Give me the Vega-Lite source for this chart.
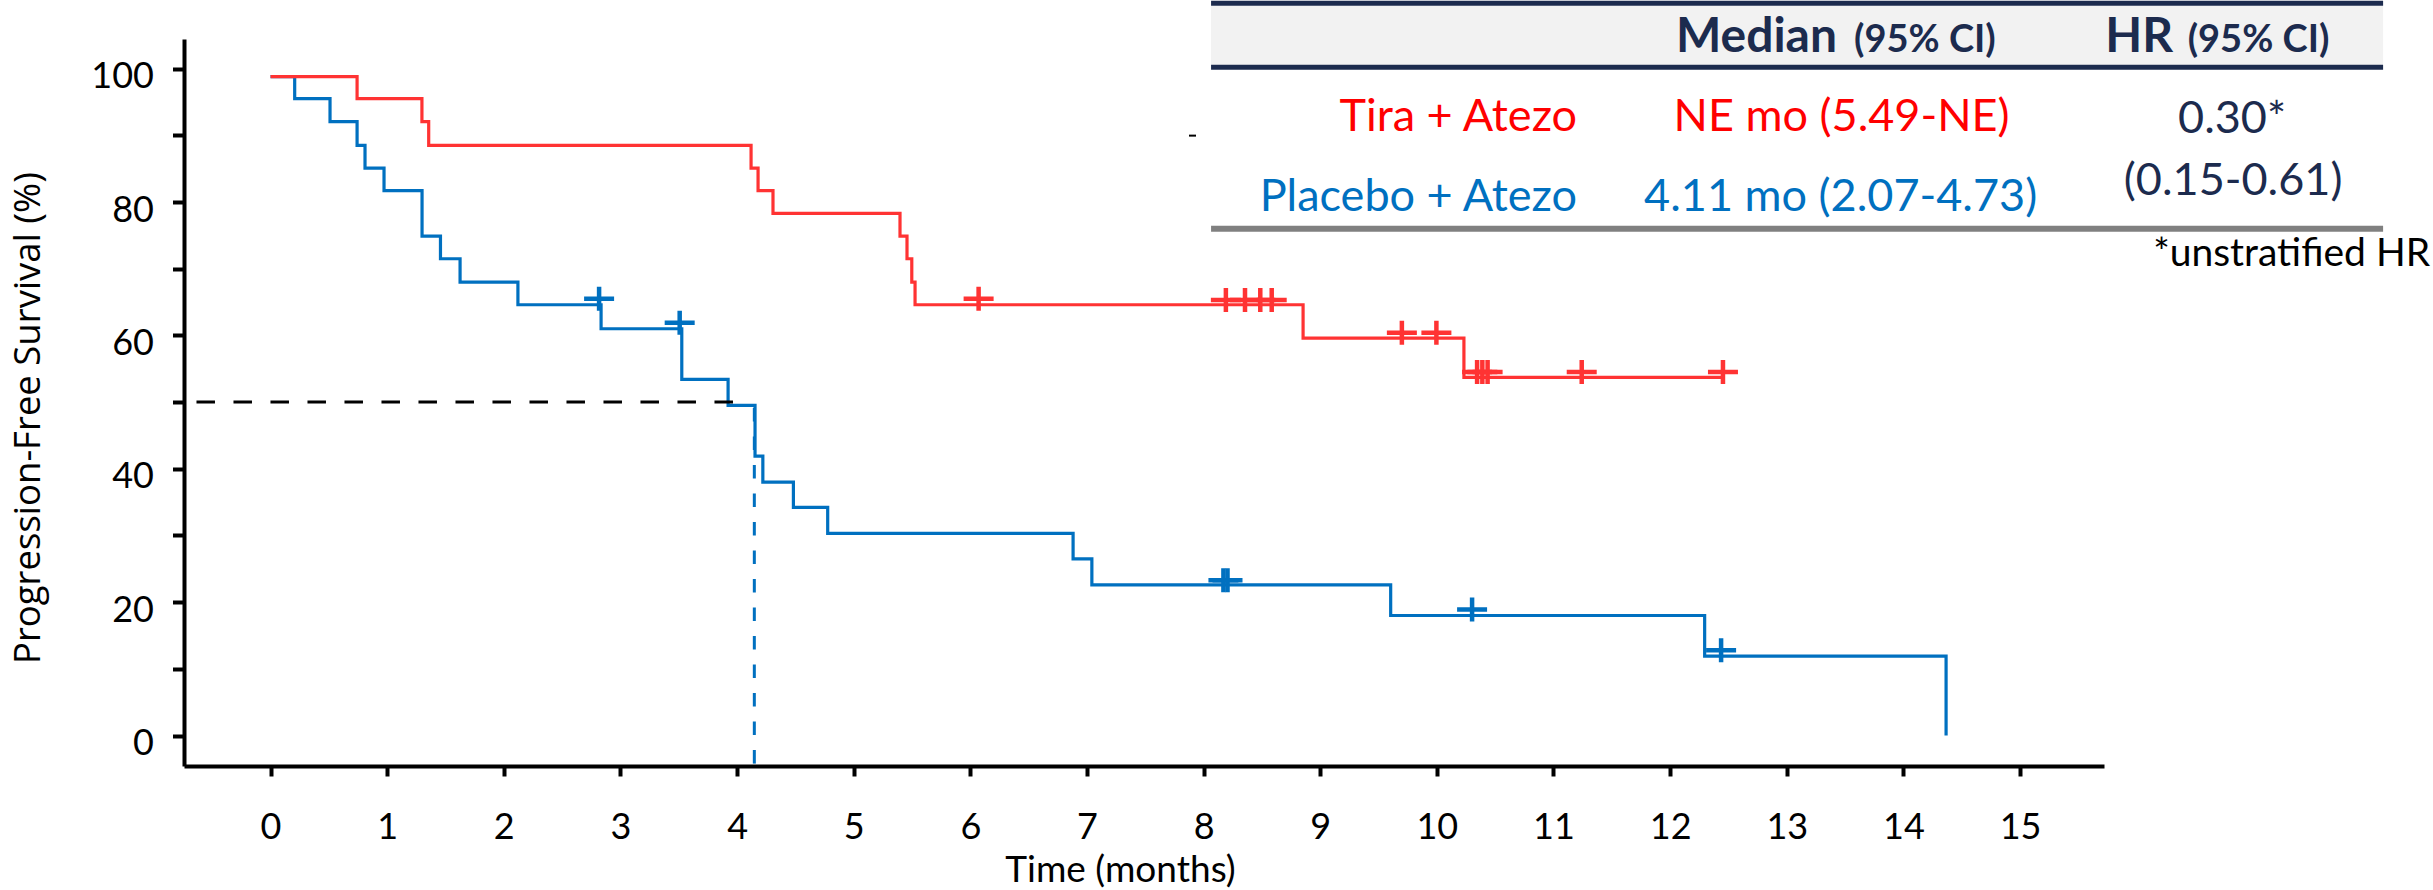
{
  "$schema": "https://vega.github.io/schema/vega-lite/v6.json",
  "width": 1920,
  "height": 727,
  "autosize": "none",
  "padding": {"left": 184, "top": 39, "right": 329, "bottom": 124},
  "background": "white",
  "config": {"view": {"stroke": null}},
  "datasets": {
    "km": [
      {"arm": "Placebo + Atezo", "time": 0, "surv": 98.8},
      {"arm": "Placebo + Atezo", "time": 0.207, "surv": 95.5},
      {"arm": "Placebo + Atezo", "time": 0.51, "surv": 92.05},
      {"arm": "Placebo + Atezo", "time": 0.742, "surv": 88.5},
      {"arm": "Placebo + Atezo", "time": 0.81, "surv": 85.1},
      {"arm": "Placebo + Atezo", "time": 0.973, "surv": 81.7},
      {"arm": "Placebo + Atezo", "time": 1.299, "surv": 74.9},
      {"arm": "Placebo + Atezo", "time": 1.457, "surv": 71.5},
      {"arm": "Placebo + Atezo", "time": 1.625, "surv": 68.0},
      {"arm": "Placebo + Atezo", "time": 2.121, "surv": 64.6},
      {"arm": "Placebo + Atezo", "time": 2.834, "surv": 61.0},
      {"arm": "Placebo + Atezo", "time": 3.526, "surv": 53.4},
      {"arm": "Placebo + Atezo", "time": 3.923, "surv": 49.5},
      {"arm": "Placebo + Atezo", "time": 4.154, "surv": 41.9},
      {"arm": "Placebo + Atezo", "time": 4.221, "surv": 38.0},
      {"arm": "Placebo + Atezo", "time": 4.483, "surv": 34.2},
      {"arm": "Placebo + Atezo", "time": 4.777, "surv": 30.3},
      {"arm": "Placebo + Atezo", "time": 6.881, "surv": 26.5},
      {"arm": "Placebo + Atezo", "time": 7.042, "surv": 22.6},
      {"arm": "Placebo + Atezo", "time": 9.604, "surv": 18.0},
      {"arm": "Placebo + Atezo", "time": 12.296, "surv": 11.9},
      {"arm": "Placebo + Atezo", "time": 14.366, "surv": 0},
      {"arm": "Tira + Atezo", "time": 0, "surv": 98.8},
      {"arm": "Tira + Atezo", "time": 0.742, "surv": 95.5},
      {"arm": "Tira + Atezo", "time": 1.298, "surv": 92.05},
      {"arm": "Tira + Atezo", "time": 1.356, "surv": 88.5},
      {"arm": "Tira + Atezo", "time": 4.12, "surv": 85.1},
      {"arm": "Tira + Atezo", "time": 4.18, "surv": 81.7},
      {"arm": "Tira + Atezo", "time": 4.308, "surv": 78.3},
      {"arm": "Tira + Atezo", "time": 5.397, "surv": 74.9},
      {"arm": "Tira + Atezo", "time": 5.457, "surv": 71.5},
      {"arm": "Tira + Atezo", "time": 5.498, "surv": 68.0},
      {"arm": "Tira + Atezo", "time": 5.526, "surv": 64.6},
      {"arm": "Tira + Atezo", "time": 8.853, "surv": 59.6},
      {"arm": "Tira + Atezo", "time": 10.232, "surv": 53.7},
      {"arm": "Tira + Atezo", "time": 12.44, "surv": 53.7}
    ],
    "censor": [
      {"arm": "Placebo + Atezo", "time": 2.817, "surv": 65.5},
      {"arm": "Placebo + Atezo", "time": 3.508, "surv": 61.9},
      {"arm": "Placebo + Atezo", "time": 8.17, "surv": 23.3},
      {"arm": "Placebo + Atezo", "time": 8.205, "surv": 23.3},
      {"arm": "Placebo + Atezo", "time": 10.302, "surv": 18.9},
      {"arm": "Placebo + Atezo", "time": 12.437, "surv": 12.8},
      {"arm": "Tira + Atezo", "time": 6.071, "surv": 65.5},
      {"arm": "Tira + Atezo", "time": 8.191, "surv": 65.3},
      {"arm": "Tira + Atezo", "time": 8.355, "surv": 65.3},
      {"arm": "Tira + Atezo", "time": 8.486, "surv": 65.3},
      {"arm": "Tira + Atezo", "time": 8.584, "surv": 65.3},
      {"arm": "Tira + Atezo", "time": 9.70, "surv": 60.4},
      {"arm": "Tira + Atezo", "time": 9.996, "surv": 60.4},
      {"arm": "Tira + Atezo", "time": 10.345, "surv": 54.5},
      {"arm": "Tira + Atezo", "time": 10.39, "surv": 54.5},
      {"arm": "Tira + Atezo", "time": 10.435, "surv": 54.5},
      {"arm": "Tira + Atezo", "time": 11.242, "surv": 54.5},
      {"arm": "Tira + Atezo", "time": 12.453, "surv": 54.5}
    ]
  },
  "layer": [
    {
      "data": {"name": "km"},
      "transform": [{"filter": "datum.arm === 'Placebo + Atezo'"}],
      "mark": {"type": "line", "interpolate": "step-after", "strokeWidth": 3.2, "color": "#0070c0"},
      "encoding": {
        "x": {
          "field": "time", "type": "quantitative",
          "scale": {"domain": [-0.742, 15.72], "nice": false, "zero": false},
          "axis": {
            "title": "Time (months)",
            "values": [0,1,2,3,4,5,6,7,8,9,10,11,12,13,14,15],
            "format": "d",
            "grid": false,
            "domainColor": "black", "domainWidth": 4,
            "tickColor": "black", "tickWidth": 4, "tickSize": 10,
            "labelFont": "Lato", "labelFontSize": 36, "labelColor": "black",
            "labelPadding": 34, "labelFlush": false, "labelOverlap": false,
            "titleFont": "Lato", "titleFontSize": 37, "titleFontWeight": "normal", "titleColor": "black",
            "titleX": 936, "titleY": 115.5, "titleBaseline": "alphabetic", "titleAlign": "center"
          }
        },
        "y": {
          "field": "surv", "type": "quantitative",
          "scale": {"domain": [-4.57, 104.45], "nice": false, "zero": false},
          "axis": {
            "title": "Progression-Free Survival (%)",
            "values": [0,10,20,30,40,50,60,70,80,90,100],
            "labelExpr": "datum.value % 20 === 0 ? datum.label : ''",
            "format": "d",
            "grid": false,
            "domainColor": "black", "domainWidth": 4,
            "tickColor": "black", "tickWidth": 4, "tickSize": 11.5,
            "labelFont": "Lato", "labelFontSize": 36, "labelColor": "black",
            "labelPadding": 19, "labelOffset": 8, "labelFlush": false, "labelOverlap": false,
            "titleFont": "Open Sans", "titleFontSize": 36.5, "titleFontWeight": "normal", "titleColor": "black",
            "titleAngle": -90, "titleX": -145, "titleY": 378.5, "titleBaseline": "alphabetic", "titleAlign": "center"
          }
        }
      }
    },
    {
      "data": {"name": "km"},
      "transform": [{"filter": "datum.arm === 'Tira + Atezo'"}],
      "mark": {"type": "line", "interpolate": "step-after", "strokeWidth": 3.2, "color": "#ff3333"},
      "encoding": {
        "x": {"field": "time", "type": "quantitative"},
        "y": {"field": "surv", "type": "quantitative"}
      }
    },
    {
      "data": {"name": "censor"},
      "mark": {"type": "point", "shape": "M-1.25,0H1.25M0,-1V1", "filled": false, "strokeWidth": 4.5, "size": 576, "opacity": 1},
      "encoding": {
        "x": {"field": "time", "type": "quantitative"},
        "y": {"field": "surv", "type": "quantitative"},
        "color": {"field": "arm", "type": "nominal", "scale": {"domain": ["Placebo + Atezo", "Tira + Atezo"], "range": ["#0070c0", "#ff3333"]}, "legend": null}
      }
    },
    {
      "data": {"values": [{}]},
      "mark": {"type": "rule", "color": "black", "strokeWidth": 3, "strokeDash": [18.5, 18.5]},
      "encoding": {
        "x": {"datum": -0.635, "type": "quantitative"},
        "x2": {"datum": 3.99},
        "y": {"datum": 50, "type": "quantitative"}
      }
    },
    {
      "data": {"values": [{}]},
      "mark": {"type": "rule", "color": "#0070c0", "strokeWidth": 3, "strokeDash": [13.5, 15]},
      "encoding": {
        "x": {"datum": 4.148, "type": "quantitative"},
        "y": {"datum": 49.1, "type": "quantitative"},
        "y2": {"datum": -4.57}
      }
    },
    {
      "data": {"values": [{}]},
      "mark": {"type": "rect", "color": "#f2f2f2"},
      "encoding": {
        "x": {"datum": 8.064, "type": "quantitative"},
        "x2": {"datum": 18.113},
        "y": {"datum": 109.45, "type": "quantitative"},
        "y2": {"datum": 100.6}
      }
    },
    {
      "data": {"values": [{"y": 109.82}, {"y": 100.22}]},
      "mark": {"type": "rule", "color": "#1c2b4e", "strokeWidth": 5},
      "encoding": {
        "x": {"datum": 8.064, "type": "quantitative"},
        "x2": {"datum": 18.113},
        "y": {"field": "y", "type": "quantitative"}
      }
    },
    {
      "data": {"values": [{}]},
      "mark": {"type": "rule", "color": "#808080", "strokeWidth": 6},
      "encoding": {
        "x": {"datum": 8.064, "type": "quantitative"},
        "x2": {"datum": 18.113},
        "y": {"datum": 76.0, "type": "quantitative"}
      }
    },
    {
      "data": {"values": [{}]},
      "mark": {"type": "rule", "color": "black", "strokeWidth": 2},
      "encoding": {
        "x": {"datum": 7.875, "type": "quantitative"},
        "x2": {"datum": 7.935},
        "y": {"datum": 89.96, "type": "quantitative"}
      }
    },
    {
      "data": {"values": [{"label": "Median"}]},
      "mark": {"type": "text", "font": "Lato", "fontSize": 48, "fontWeight": "bold", "color": "#1c2b4e", "align": "right", "baseline": "alphabetic"},
      "encoding": {"x": {"datum": 13.431, "type": "quantitative"}, "y": {"datum": 102.44, "type": "quantitative"}, "text": {"field": "label"}}
    },
    {
      "data": {"values": [{"label": "(95% CI)"}]},
      "mark": {"type": "text", "font": "Lato", "fontSize": 38, "fontWeight": "bold", "color": "#1c2b4e", "align": "left", "baseline": "alphabetic"},
      "encoding": {"x": {"datum": 13.577, "type": "quantitative"}, "y": {"datum": 102.44, "type": "quantitative"}, "text": {"field": "label"}}
    },
    {
      "data": {"values": [{"label": "HR"}]},
      "mark": {"type": "text", "font": "Lato", "fontSize": 48, "fontWeight": "bold", "color": "#1c2b4e", "align": "right", "baseline": "alphabetic"},
      "encoding": {"x": {"datum": 16.313, "type": "quantitative"}, "y": {"datum": 102.44, "type": "quantitative"}, "text": {"field": "label"}}
    },
    {
      "data": {"values": [{"label": "(95% CI)"}]},
      "mark": {"type": "text", "font": "Lato", "fontSize": 38, "fontWeight": "bold", "color": "#1c2b4e", "align": "left", "baseline": "alphabetic"},
      "encoding": {"x": {"datum": 16.437, "type": "quantitative"}, "y": {"datum": 102.44, "type": "quantitative"}, "text": {"field": "label"}}
    },
    {
      "data": {"values": [{"label": "Tira + Atezo"}]},
      "mark": {"type": "text", "font": "Lato", "fontSize": 45, "color": "#ff0000", "align": "right", "baseline": "alphabetic"},
      "encoding": {"x": {"datum": 11.202, "type": "quantitative"}, "y": {"datum": 90.6, "type": "quantitative"}, "text": {"field": "label"}}
    },
    {
      "data": {"values": [{"label": "Placebo + Atezo"}]},
      "mark": {"type": "text", "font": "Lato", "fontSize": 45, "color": "#0070c0", "align": "right", "baseline": "alphabetic"},
      "encoding": {"x": {"datum": 11.202, "type": "quantitative"}, "y": {"datum": 78.6, "type": "quantitative"}, "text": {"field": "label"}}
    },
    {
      "data": {"values": [{"label": "NE mo (5.49-NE)"}]},
      "mark": {"type": "text", "font": "Lato", "fontSize": 45, "color": "#ff0000", "align": "center", "baseline": "alphabetic"},
      "encoding": {"x": {"datum": 13.47, "type": "quantitative"}, "y": {"datum": 90.6, "type": "quantitative"}, "text": {"field": "label"}}
    },
    {
      "data": {"values": [{"label": "4.11 mo (2.07-4.73)"}]},
      "mark": {"type": "text", "font": "Lato", "fontSize": 45, "color": "#0070c0", "align": "center", "baseline": "alphabetic"},
      "encoding": {"x": {"datum": 13.462, "type": "quantitative"}, "y": {"datum": 78.6, "type": "quantitative"}, "text": {"field": "label"}}
    },
    {
      "data": {"values": [{"label": "0.30*"}]},
      "mark": {"type": "text", "font": "Lato", "fontSize": 45, "color": "#1c2b4e", "align": "center", "baseline": "alphabetic"},
      "encoding": {"x": {"datum": 16.818, "type": "quantitative"}, "y": {"datum": 90.37, "type": "quantitative"}, "text": {"field": "label"}}
    },
    {
      "data": {"values": [{"label": "(0.15-0.61)"}]},
      "mark": {"type": "text", "font": "Lato", "fontSize": 45, "color": "#1c2b4e", "align": "center", "baseline": "alphabetic"},
      "encoding": {"x": {"datum": 16.827, "type": "quantitative"}, "y": {"datum": 81.1, "type": "quantitative"}, "text": {"field": "label"}}
    },
    {
      "data": {"values": [{"label": "*unstratified HR"}]},
      "mark": {"type": "text", "font": "Lato", "fontSize": 39, "color": "black", "align": "right", "baseline": "alphabetic"},
      "encoding": {"x": {"datum": 18.516, "type": "quantitative"}, "y": {"datum": 70.4, "type": "quantitative"}, "text": {"field": "label"}}
    }
  ]
}
